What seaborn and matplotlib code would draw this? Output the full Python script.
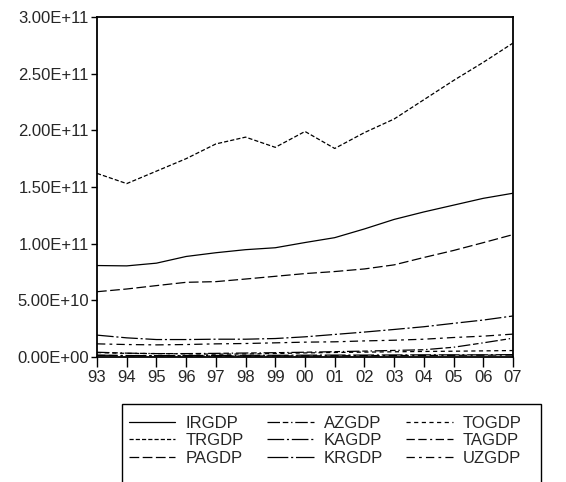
import matplotlib
matplotlib.use("Agg")
import matplotlib.pyplot as plt
import pandas as pd
import seaborn as sns
from matplotlib.patches import Rectangle
from matplotlib.ticker import FuncFormatter

years = list(range(1993, 2008))
year_labels = ["93", "94", "95", "96", "97", "98", "99", "00", "01", "02", "03", "04", "05", "06", "07"]

# values in billions
trgdp = [162, 153, 164, 175, 188, 194, 185, 199, 184, 198, 210, 227, 244, 260, 277]
irgdp = [80.7, 80.4, 82.8, 88.7, 92, 94.7, 96.4, 101, 105.3, 113, 121.4, 128, 134, 140, 144.5]
pagdp = [57.6, 60, 63, 65.9, 66.5, 68.8, 71.2, 73.6, 75.4, 77.7, 81.3, 87.8, 94, 100.9, 108]
kagdp = [19.3, 16.9, 15.4, 15.4, 15.7, 15.7, 16.3, 17.8, 19.9, 22, 24.3, 26.7, 29.7, 32.6, 36.2]
uzgdp = [11.6, 11, 10.7, 11, 11.6, 11.9, 12.5, 13.1, 13.4, 14.2, 14.8, 15.7, 17.2, 18.4, 20.2]
azgdp = [4.2, 3.4, 3.0, 3.0, 3.2, 3.5, 3.8, 4.2, 4.7, 5.2, 5.8, 6.4, 8.6, 12.5, 16.6]
togdp = [3.9, 3.2, 3.0, 2.8, 2.5, 2.7, 3.1, 3.6, 4.0, 4.3, 4.6, 4.9, 5.1, 5.4, 5.7]
tagdp = [1.5, 1.2, 1.1, 0.9, 0.9, 0.9, 1.0, 1.0, 1.1, 1.2, 1.3, 1.4, 1.5, 1.6, 1.7]
krgdp = [1.6, 1.3, 1.2, 1.3, 1.4, 1.5, 1.5, 1.6, 1.7, 1.7, 1.8, 1.9, 1.9, 1.9, 2.1]

series = {
    "IRGDP": irgdp, "AZGDP": azgdp, "TOGDP": togdp,
    "TRGDP": trgdp, "KAGDP": kagdp, "TAGDP": tagdp,
    "PAGDP": pagdp, "KRGDP": krgdp, "UZGDP": uzgdp,
}

rows = []
for name, vals in series.items():
    for y, v in zip(years, vals):
        rows.append({"year": y, "series": name, "value": v * 1e9})
df = pd.DataFrame(rows)

dashes = {
    "IRGDP": "",
    "AZGDP": (9, 2, 4, 2, 1, 2),
    "TOGDP": (3, 2.5),
    "TRGDP": (3, 1.5),
    "KAGDP": (12, 2, 1.5, 2),
    "TAGDP": (6, 2.5, 6, 2.5, 1.5, 2.5),
    "PAGDP": (7, 2.5),
    "KRGDP": (15, 2, 1.5, 2),
    "UZGDP": (6, 3, 2, 3),
}

sns.set_style("white")
plt.rcParams["font.family"] = ["Liberation Sans", "DejaVu Sans"]
plt.rcParams["lines.scale_dashes"] = False

fig = plt.figure(figsize=(5.66, 4.82), dpi=100)
ax = fig.add_axes([97 / 566, 1 - 357 / 482, (513 - 97) / 566, (357 - 17) / 482])

sns.lineplot(data=df, x="year", y="value", style="series", dashes=dashes,
             color="black", linewidth=0.9, ax=ax, legend=True)

ax.set_xlim(1993, 2007)
ax.set_ylim(0, 3e11)
ax.set_xticks(years)
ax.set_xticklabels(year_labels)
ax.set_yticks([0, 5e10, 1e11, 1.5e11, 2e11, 2.5e11, 3e11])
ax.yaxis.set_major_formatter(FuncFormatter(lambda v, p: f"{v:.2E}"))
ax.set_xlabel("")
ax.set_ylabel("")
ax.tick_params(axis="both", labelsize=12, color="black", width=1, direction="out")
ax.tick_params(axis="x", length=7, pad=2)
ax.tick_params(axis="y", length=4, pad=2)
ax.tick_params(bottom=True, left=True)
for s in ax.spines.values():
    s.set_color("black")
    s.set_linewidth(1.3)

handles, labels = ax.get_legend_handles_labels()
lookup = dict(zip(labels, handles))
ax.get_legend().remove()
order = ["IRGDP", "TRGDP", "PAGDP", "AZGDP", "KAGDP", "KRGDP", "TOGDP", "TAGDP", "UZGDP"]
leg = fig.legend([lookup[k] for k in order], order, ncol=3, loc="upper left",
                 bbox_to_anchor=(117 / 566, 1 - 404 / 482), fontsize=12,
                 frameon=False, handlelength=2.8, handletextpad=0.6,
                 columnspacing=1.4, labelspacing=0.15, borderpad=0.2)

# legend box runs past the bottom edge of the figure, as in the original
fig.patches.append(Rectangle((121.5 / 566, -0.05), (540.5 - 121.5) / 566, 0.05 + 1 - 404 / 482,
                             transform=fig.transFigure, fill=False, edgecolor="black",
                             linewidth=1.0))

fig.savefig("out.png", dpi=100)
